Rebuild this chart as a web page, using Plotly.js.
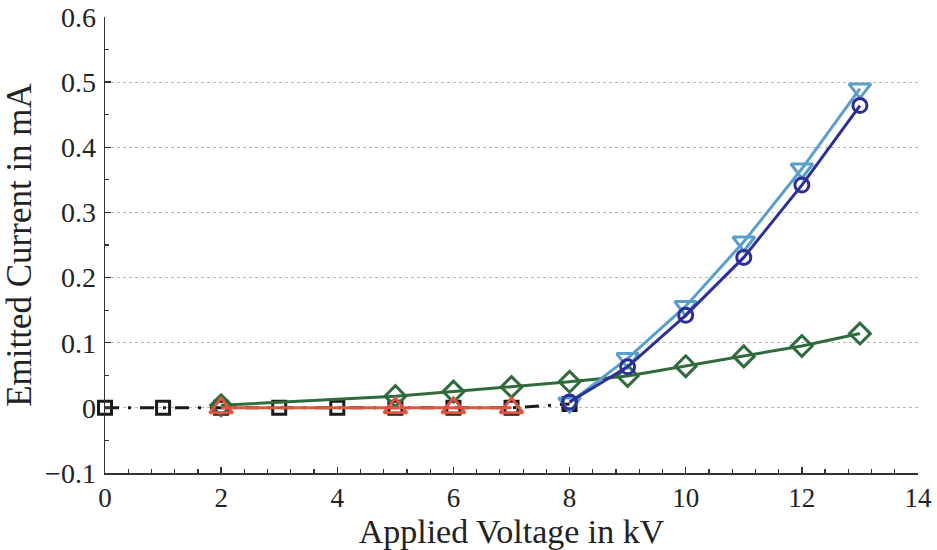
<!DOCTYPE html>
<html>
<head>
<meta charset="utf-8">
<script src="https://cdn.plot.ly/plotly-3.0.1.min.js"></script>
<style>html,body{margin:0;padding:0;background:#fff;}#chart{width:937px;height:550px;}</style>
</head>
<body>
<div id="chart"></div>
<script>
// Data
const blackX = [0, 1, 2, 3, 4, 5, 6, 7, 8];
const blackY = [0, 0, 0, 0, 0, 0, 0, 0, 0.006];

const redX = [2, 5, 6, 7];
const redY = [0, 0, 0, 0];

const greenX = [2, 5, 6, 7, 8, 9, 10, 11, 12, 13];
const greenY = [0.004, 0.018, 0.025, 0.032, 0.040, 0.049, 0.064, 0.079, 0.095, 0.114];

const lightBlueX = [8, 9, 10, 11, 12, 13];
const lightBlueY = [0.008, 0.076, 0.156, 0.255, 0.367, 0.490];

const darkBlueX = [8, 9, 10, 11, 12, 13];
const darkBlueY = [0.009, 0.063, 0.142, 0.231, 0.342, 0.464];

const xTicks = [0, 2, 4, 6, 8, 10, 12, 14];
const yTicks = [-0.1, 0, 0.1, 0.2, 0.3, 0.4, 0.5, 0.6];
const yTickText = ['\u22120.1', '0', '0.1', '0.2', '0.3', '0.4', '0.5', '0.6'];

const xTitle = 'Applied Voltage in kV';
const yTitle = 'Emitted Current in mA';

function tr(x, y, color, symbol, size, dash) {
  return {
    x: x, y: y, type: 'scatter', mode: 'lines+markers', cliponaxis: false,
    line: {color: color, width: 3, dash: dash || 'solid'},
    marker: {symbol: symbol, size: size, color: color, line: {color: color, width: 3}},
    showlegend: false, hoverinfo: 'skip'
  };
}

const data = [
  tr(blackX, blackY, '#1a1a1f', 'square-open', 13, '14px,9px,3px,9px'),
  tr(greenX, greenY, '#2f6b3c', 'diamond-open', 16),
  tr(redX, redY, '#e0553f', 'triangle-up-open', 20),
  tr(lightBlueX, lightBlueY, '#5a9fc9', 'triangle-down-open', 19),
  tr(darkBlueX, darkBlueY, '#2c2f96', 'circle-open', 14)
];

const FAM = 'Liberation Serif, Times New Roman, serif';

const layout = {
  width: 937, height: 550,
  margin: {l: 105, r: 19, t: 17, b: 77},
  paper_bgcolor: '#fff', plot_bgcolor: '#fff',
  font: {family: FAM, color: '#222'},
  xaxis: {
    range: [0, 14], tickvals: xTicks, ticktext: xTicks.map(String),
    showgrid: false, zeroline: false,
    showline: true, linecolor: '#333', linewidth: 1.5,
    ticks: 'inside', ticklen: 6, tickwidth: 1.3, tickcolor: '#333',
    minor: {dtick: 0.4, tick0: 0, ticks: 'inside', ticklen: 4, tickwidth: 1.2, tickcolor: '#333', showgrid: false},
    tickfont: {family: FAM, size: 27, color: '#222'},
    ticklabelstandoff: 0,
    title: {text: xTitle, font: {family: FAM, size: 34, color: '#222'}, standoff: 0}
  },
  yaxis: {
    range: [-0.1, 0.6], tickvals: yTicks, ticktext: yTickText,
    showgrid: true, gridcolor: '#b5b5b5', gridwidth: 1.2, griddash: 'dot',
    zeroline: false,
    showline: true, linecolor: '#333', linewidth: 1.5,
    ticks: 'inside', ticklen: 6, tickwidth: 1.3, tickcolor: '#333',
    minor: {dtick: 0.05, tick0: 0, ticks: 'inside', ticklen: 4, tickwidth: 1.2, tickcolor: '#333', showgrid: false},
    tickfont: {family: FAM, size: 28, color: '#222'},
    ticklabelstandoff: 2,
    title: {text: yTitle, font: {family: FAM, size: 35, color: '#222'}, standoff: 4}
  }
};

Plotly.newPlot('chart', data, layout, {staticPlot: true, displayModeBar: false});
</script>
</body>
</html>
